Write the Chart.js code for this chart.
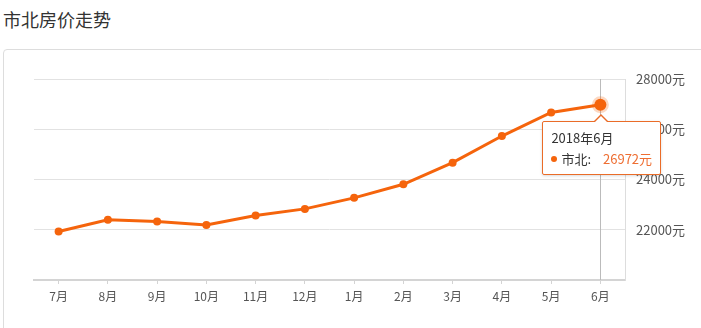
<!DOCTYPE html>
<html>
<head>
<meta charset="utf-8">
<script src="https://cdn.jsdelivr.net/npm/chart.js@4/dist/chart.umd.min.js"></script>
<style>
  body { margin: 0; width: 701px; height: 328px; overflow: hidden; background: #fff; font-family: "Noto Sans CJK SC", sans-serif; }
  .title { position: absolute; left: 3px; top: 6px; font-size: 18px; color: #333; }
  .card { position: absolute; left: 3px; top: 49px; width: 720px; height: 300px; border: 1px solid #ddd; border-radius: 4px; }
  .wrap { position: absolute; left: 0; top: 0; width: 701px; height: 328px; }
  #tip { position: absolute; box-sizing: border-box; width: 119px; height: 54px; background: #fff; border: 1px solid #ea6c28; border-radius: 2px; padding: 5px 8px 0 8px; font-size: 13px; line-height: 21px; color: #333; white-space: nowrap; box-shadow: 0 1px 3px rgba(0,0,0,0.15); pointer-events: none; }
  #tip:before { content: ""; position: absolute; left: 51px; top: -8px; border-left: 7px solid transparent; border-right: 7px solid transparent; border-bottom: 7px solid #ea6c28; }
  #tip:after { content: ""; position: absolute; left: 52px; top: -6px; border-left: 6px solid transparent; border-right: 6px solid transparent; border-bottom: 6px solid #fff; }
  #tip .dot { display: inline-block; width: 6px; height: 6px; border-radius: 3px; background: #f5640c; margin-right: 4px; vertical-align: 2px; }
  #tip .v { color: #ee6e32; margin-left: 12px; }
</style>
</head>
<body>
<div class="title">市北房价走势</div>
<div class="card"></div>
<div class="wrap"><canvas id="chart" width="701" height="328"></canvas></div>
<div id="tip" style="display:none"></div>
<script>
const months = ['7月', '8月', '9月', '10月', '11月', '12月', '1月', '2月', '3月', '4月', '5月', '6月'];
const years = [2017, 2017, 2017, 2017, 2017, 2017, 2018, 2018, 2018, 2018, 2018, 2018];
const prices = [21930, 22400, 22330, 22190, 22570, 22830, 23270, 23810, 24670, 25730, 26670, 26972];
const seriesName = '市北';
const yTicks = [20000, 22000, 24000, 26000, 28000];

const orange = '#f5640c';

function externalTip(context) {
  const tip = document.getElementById('tip');
  const model = context.tooltip;
  if (model.opacity === 0 || !model.dataPoints || !model.dataPoints.length) {
    tip.style.display = 'none';
    return;
  }
  const i = model.dataPoints[0].dataIndex;
  tip.innerHTML = '<div>' + years[i] + '年' + months[i] + '</div>' +
    '<div><span class="dot"></span>' + seriesName + ':<span class="v">' + prices[i] + '元</span></div>';
  tip.style.display = 'block';
  const r = context.chart.canvas.getBoundingClientRect();
  tip.style.left = (r.left + model.caretX - 58) + 'px';
  tip.style.top = (r.top + model.caretY + 16) + 'px';
}

const crosshair = {
  id: 'crosshair',
  beforeDatasetsDraw(chart) {
    const active = chart.getActiveElements();
    if (!active.length) return;
    const x = active[0].element.x;
    const { top, bottom } = chart.chartArea;
    const ctx = chart.ctx;
    ctx.save();
    ctx.strokeStyle = '#bbb';
    ctx.lineWidth = 1;
    ctx.beginPath();
    ctx.moveTo(Math.round(x) + 0.5, top);
    ctx.lineTo(Math.round(x) + 0.5, bottom);
    ctx.stroke();
    ctx.restore();
  }
};

const chart = new Chart(document.getElementById('chart'), {
  type: 'line',
  data: {
    labels: months,
    datasets: [{
      label: seriesName,
      data: prices,
      borderColor: orange,
      backgroundColor: orange,
      borderWidth: 3,
      pointRadius: 4,
      pointBackgroundColor: orange,
      pointBorderWidth: 0,
      pointHoverRadius: 6,
      pointHoverBorderWidth: 5,
      pointHoverBorderColor: 'rgba(245,100,12,0.25)',
      pointHoverBackgroundColor: orange,
      tension: 0
    }]
  },
  options: {
    responsive: false,
    animation: false,
    events: [],
    layout: { padding: { left: 34, top: 79, right: 0, bottom: 0 } },
    plugins: {
      legend: { display: false },
      tooltip: { enabled: false, external: externalTip, mode: 'index', intersect: false }
    },
    scales: {
      x: {
        offset: true,
        grid: { offset: false, drawOnChartArea: false, drawTicks: true, tickLength: 4, color: '#d4d4d4' },
        border: { display: true, color: '#d4d4d4', width: 2 },
        ticks: { color: '#555', padding: 5, font: { size: 12, family: '"Noto Sans CJK SC", sans-serif' } },
        afterFit(scale) { scale.height = 48; }
      },
      y: {
        position: 'right',
        min: yTicks[0],
        max: yTicks[yTicks.length - 1],
        afterBuildTicks(scale) { scale.ticks = yTicks.map((v) => ({ value: v })); },
        grid: { color: '#e2e2e2', drawTicks: false },
        border: { display: true, color: '#ddd' },
        ticks: {
          color: '#555',
          padding: 11,
          font: { size: 13, family: '"Noto Sans CJK SC", sans-serif' },
          callback: (v) => (v === yTicks[0] ? '' : v + '元')
        },
        afterFit(scale) { scale.width = 76; }
      }
    }
  },
  plugins: [crosshair]
});

const last = prices.length - 1;
const pt = chart.getDatasetMeta(0).data[last];
chart.setActiveElements([{ datasetIndex: 0, index: last }]);
chart.tooltip.setActiveElements([{ datasetIndex: 0, index: last }], { x: pt.x, y: pt.y });
chart.update();
</script>
</body>
</html>
